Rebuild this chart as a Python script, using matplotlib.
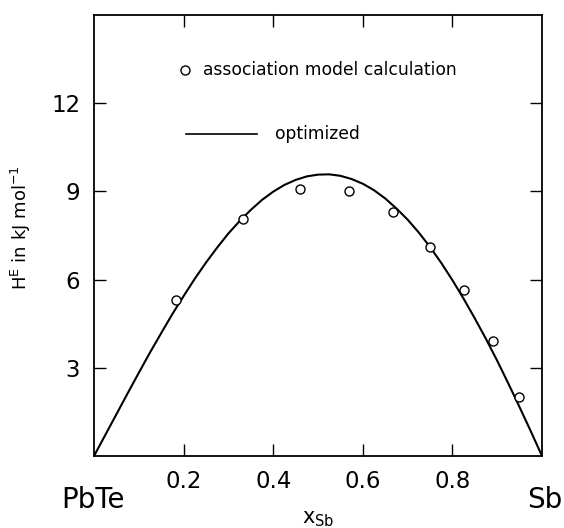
import numpy as np
import matplotlib.pyplot as plt
from matplotlib.lines import Line2D

# association model calculation (points)
x_calc = [0.182, 0.333, 0.460, 0.570, 0.667, 0.750, 0.825, 0.890, 0.948]
h_calc = [5.32, 8.05, 9.08, 9.03, 8.30, 7.11, 5.64, 3.91, 1.99]

# optimized enthalpy of mixing curve
x_opt = [0.000, 0.025, 0.050, 0.075, 0.100, 0.125, 0.150, 0.175, 0.200, 0.225,
         0.250, 0.275, 0.300, 0.325, 0.350, 0.375, 0.400, 0.425, 0.450, 0.475,
         0.500, 0.525, 0.550, 0.575, 0.600, 0.625, 0.650, 0.675, 0.700, 0.725,
         0.750, 0.775, 0.800, 0.825, 0.850, 0.875, 0.900, 0.925, 0.950, 0.975,
         1.000]
h_opt = [0.00, 0.71, 1.42, 2.13, 2.83, 3.52, 4.18, 4.83, 5.44, 6.03,
         6.58, 7.09, 7.57, 7.99, 8.37, 8.71, 8.99, 9.22, 9.39, 9.51,
         9.57, 9.58, 9.53, 9.42, 9.26, 9.04, 8.76, 8.42, 8.04, 7.60,
         7.11, 6.57, 5.98, 5.35, 4.68, 3.98, 3.24, 2.46, 1.66, 0.84,
         0.00]

xticks = [0.2, 0.4, 0.6, 0.8]
yticks = [3, 6, 9, 12]

plt.rcParams['font.family'] = 'DejaVu Sans'

fig = plt.figure(figsize=(5.64, 5.28), dpi=100)
ax = fig.add_axes([0.1667, 0.1364, 0.7943, 0.8352])

ax.plot(x_opt, h_opt, color='black', lw=1.5)
ax.plot(x_calc, h_calc, 'o', ms=6.5, mfc='white', mec='black', mew=1.0)

ax.set_xlim(0, 1)
ax.set_ylim(0, 15)
ax.set_xticks(xticks)
ax.set_xticklabels(['0.2', '0.4', '0.6', '0.8'])
ax.set_yticks(yticks)
ax.tick_params(direction='in', length=8.5, width=1.0, top=True, right=True,
               labelsize=16.5, pad=10)
for s in ax.spines.values():
    s.set_linewidth(1.3)

# legend drawn by hand
ax.add_line(Line2D([0.203], [0.875], marker='o', ms=6.5, mfc='white', mec='black',
                   mew=1.0, transform=ax.transAxes))
ax.text(0.243, 0.875, 'association model calculation', transform=ax.transAxes,
        fontsize=12.3, va='center', ha='left')
ax.add_line(Line2D([0.205, 0.364], [0.730, 0.730], color='black', lw=1.2,
                   transform=ax.transAxes))
ax.text(0.404, 0.730, 'optimized', transform=ax.transAxes,
        fontsize=12.3, va='center', ha='left')

ax.set_ylabel(r'H$^{\mathregular{E}}$ in kJ mol$^{\mathregular{-1}}$', fontsize=13)
ax.yaxis.set_label_coords(-0.136, 0.517)
fig.text(318/564, 1 - 519/528, r'x$_{\mathregular{Sb}}$', fontsize=15, ha='center', va='center')
fig.text(93/564, 1 - 500/528, 'PbTe', fontsize=20, ha='center', va='center')
fig.text(545/564, 1 - 500/528, 'Sb', fontsize=20, ha='center', va='center')

fig.savefig('out.png', dpi=100)
